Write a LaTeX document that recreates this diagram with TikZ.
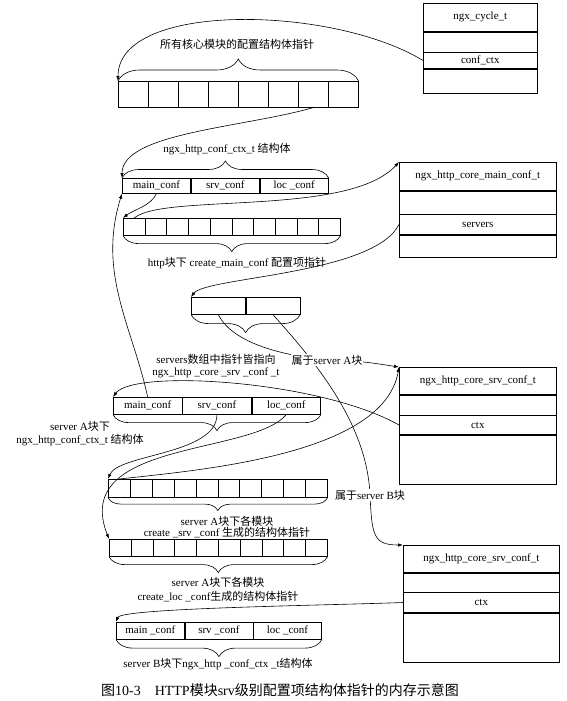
\documentclass[tikz,border=0pt]{standalone}
\usepackage{fontspec}
\setmainfont{Liberation Serif}
\newfontfamily\zhfont{Noto Sans CJK SC}
\newcommand{\zh}[1]{{\zhfont #1}}
\usetikzlibrary{positioning,arrows.meta,decorations.pathreplacing}

\tikzset{
  slot/.style={draw,rectangle,anchor=north west,minimum width=#1},
  field/.style={draw,rectangle,minimum width=#1},
  lbl/.style={align=center},
  over/.style={fill=white,inner sep=1pt},
  brc/.style={decorate,decoration={brace,amplitude=#1}},
}

\begin{document}
\begin{tikzpicture}[x=1pt,y=-1pt,node distance=0pt,line width=0.6pt,
  >={Latex[length=5pt,width=3.5pt]},
  every node/.style={font=\fontsize{11}{12.5}\selectfont,inner sep=0pt}]
  \useasboundingbox (0,0) rectangle (567,701);

  % ngx_cycle_t
  \node[slot=114pt,minimum height=28pt] (cyc1) at (423,3) {ngx\_cycle\_t};
  \node[field=114pt,minimum height=20pt,below=of cyc1] (cyc2) {};
  \node[field=114pt,minimum height=16pt,below=of cyc2] (cyc3) {conf\_ctx};
  \node[field=114pt,minimum height=24pt,below=of cyc3] (cyc4) {};

  % all core module pointers
  \foreach \i in {1,...,8}
    \node[slot=30pt,minimum height=26pt] (all\i) at ({118+30*(\i-1)},81) {};
  \draw[brc=22pt] (all1.north west) -- (all8.north east);
  \node (ttop) at (237,44) {\zh{所有核心模块的配置结构体指针}};

  % http block ngx_http_conf_ctx_t
  \node[slot=68.3pt,minimum height=15pt] (hm) at (122,178) {main\_conf};
  \node[field=68.3pt,minimum height=15pt,right=of hm] (hs) {srv\_conf};
  \node[field=68.3pt,minimum height=15pt,right=of hs] (hl) {loc \_conf};
  \draw[brc=17pt] (hm.north west) -- (hl.north east);
  \node (thttp) at (227,149) {ngx\_http\_conf\_ctx\_t \zh{结构体}};

  % create_main_conf pointers
  \foreach \i in {1,...,10}
    \node[slot=21.7pt,minimum height=17pt] (mc\i) at ({123+21.7*(\i-1)},218) {};
  \draw[brc=16pt] (mc10.south east) -- (mc1.south west);
  \node (tmain) at (237,263) {http\zh{块下} create\_main\_conf \zh{配置项指针}};

  % ngx_http_core_main_conf_t
  \node[slot=157pt,minimum height=28pt] (core1) at (399,162) {ngx\_http\_core\_main\_conf\_t};
  \node[field=157pt,minimum height=23pt,below=of core1] (core2) {};
  \node[field=157pt,minimum height=20pt,below=of core2] (core3) {servers};
  \node[field=157pt,minimum height=22pt,below=of core3] (core4) {};

  % servers array
  \node[slot=54pt,minimum height=17pt] (sv1) at (191,297) {};
  \node[field=54pt,minimum height=17pt,right=of sv1] (sv2) {};
  \draw[brc=18pt] (sv2.south east) -- (sv1.south west);
  \node[lbl,font=\fontsize{11}{11.5}\selectfont] (tsrvs) at (216,366)
    {servers\zh{数组中指针皆指向}\\ngx\_http \_core \_srv \_conf \_t};

  % server A ngx_http_core_srv_conf_t
  \node[slot=157pt,minimum height=27pt] (bxA1) at (399,367) {ngx\_http\_core\_srv\_conf\_t};
  \node[field=157pt,minimum height=20pt,below=of bxA1] (bxA2) {};
  \node[field=157pt,minimum height=19pt,below=of bxA2] (bxA3) {ctx};
  \node[field=157pt,minimum height=49pt,below=of bxA3] (bxA4) {};

  % server A ngx_http_conf_ctx_t
  \node[slot=68.7pt,minimum height=17pt] (am) at (113,397) {main\_conf};
  \node[field=68.7pt,minimum height=17pt,right=of am] (as) {srv\_conf};
  \node[field=68.7pt,minimum height=17pt,right=of as] (al) {loc\_conf};
  \draw[brc=16pt] (al.south east) -- (am.south west);
  \node[lbl,font=\fontsize{11}{13}\selectfont] (tctxA) at (80,434)
    {server A\zh{块下}\\ngx\_http\_conf\_ctx\_t \zh{结构体}};

  % server A create_srv_conf / create_loc_conf
  \foreach \i in {1,...,10}
    \node[slot=21.9pt,minimum height=18pt] (sc\i) at ({108+21.9*(\i-1)},479) {};
  \draw[brc=13pt] (sc10.south east) -- (sc1.south west);
  \node[lbl,font=\fontsize{11}{11.5}\selectfont] (tsrv) at (227,527)
    {server A\zh{块下各模块}\\create \_srv \_conf \zh{生成的结构体指针}};
  \foreach \i in {1,...,10}
    \node[slot=21.8pt,minimum height=17pt] (lc\i) at ({109+21.8*(\i-1)},539) {};
  \draw[brc=16pt] (lc10.south east) -- (lc1.south west);
  \node[lbl,font=\fontsize{11}{14}\selectfont] (tloc) at (218,590)
    {server A\zh{块下各模块}\\create\_loc \_conf\zh{生成的结构体指针}};

  % server B ngx_http_core_srv_conf_t
  \node[slot=156pt,minimum height=27pt] (bxB1) at (403,545) {ngx\_http\_core\_srv\_conf\_t};
  \node[field=156pt,minimum height=19pt,below=of bxB1] (bxB2) {};
  \node[field=156pt,minimum height=20pt,below=of bxB2] (bxB3) {ctx};
  \node[field=156pt,minimum height=49pt,below=of bxB3] (bxB4) {};

  % server B ngx_http_conf_ctx_t
  \node[slot=68pt,minimum height=17pt] (bm) at (116,622) {main \_conf};
  \node[field=68pt,minimum height=17pt,right=of bm] (bs) {srv \_conf};
  \node[field=68pt,minimum height=17pt,right=of bs] (bl) {loc \_conf};
  \draw[brc=17pt] (bl.south east) -- (bm.south west);
  \node (tctxB) at (218,664) {server B\zh{块下}ngx\_http \_conf\_ctx \_t\zh{结构体}};

  % pointers
  \draw[->] (cyc3.west) .. controls +(-90,-55) and +(0,-80) .. (all1.north west);
  \draw[->] (all7.south) .. controls +(-70,20) and +(0,-45) .. (hm.north west);
  \draw[->] (hm.south) .. controls +(-5,12) and +(10,-8) .. (mc1.north west);
  \draw[->] (mc1.north) .. controls +(30,-25) and +(-50,55) .. (core1.north west);
  \draw[->] (core3.west) .. controls +(-25,50) and +(15,-20) .. (sv1.north west);
  \draw[->] (am.north) .. controls +(-15,-70) and +(-25,80) .. (hm.south west);

  \coordinate (belB) at (370,495);
  \draw[->] (sv2.south) .. controls +(45,50) and +(-3,-70) .. (belB)
    .. controls +(2,40) and +(-30,0) .. (bxB1.north west);
  \node[over] (tbelB) at (belB) {\zh{属于}server B\zh{块}};
  \coordinate (belA) at (327,360);
  \draw[->] (sv1.south) .. controls +(15,30) and +(-40,-4) .. (belA)
    .. controls +(30,0) and +(-20,-3) .. (bxA1.north west);
  \node[over] (tbelA) at (belA) {\zh{属于}server A\zh{块}};

  \draw[->] (bxA3.west) .. controls +(-80,-45) and +(20,-28) .. (am.north west);
  \draw[->] (as.south) .. controls +(0,40) and +(10,-25) .. (sc1.north west);
  \draw[->] (al.south) .. controls +(-34,41) and +(-39,-99) .. (lc1.north west);
  \draw[->] (sc1.north) .. controls +(81,-9) and +(-15,88) .. (bxA1.north west);
  \draw[->] (bxB3.west) .. controls +(-80,3) and +(5,-14) .. (bm.north west);

  \node[font=\fontsize{14}{16}\selectfont] (cap) at (280,690)
    {\zh{图}10-3\quad HTTP\zh{模块}srv\zh{级别配置项结构体指针的内存示意图}};
\end{tikzpicture}
\end{document}
